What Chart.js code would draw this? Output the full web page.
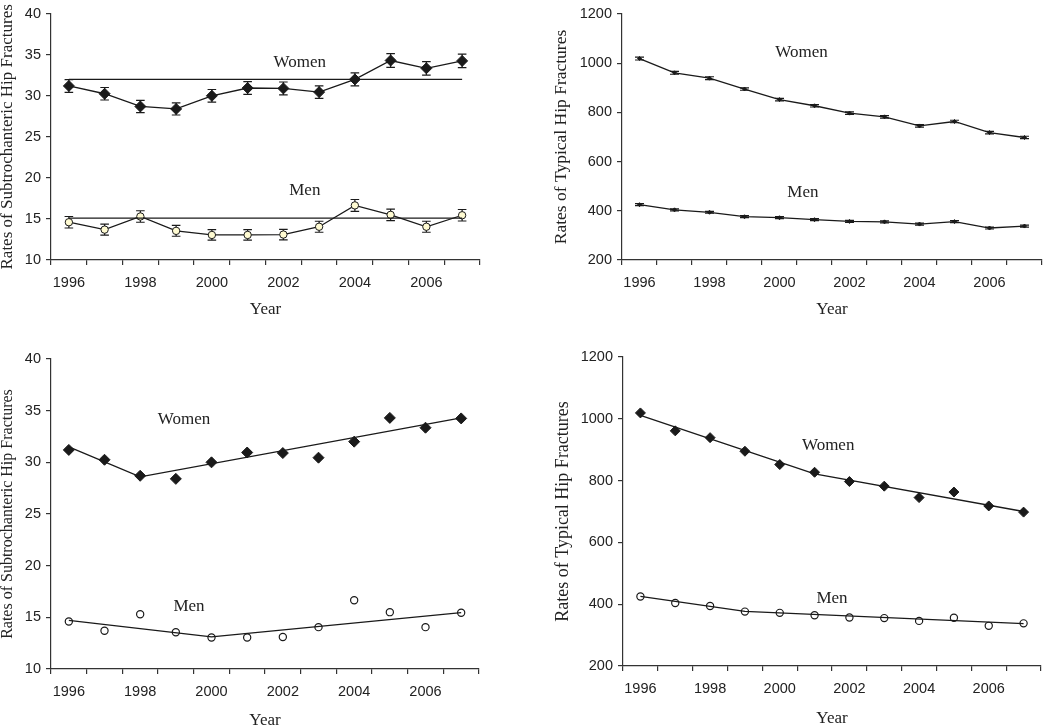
<!DOCTYPE html>
<html>
<head>
<meta charset="utf-8">
<script src="https://cdn.jsdelivr.net/npm/chart.js@4.4.1/dist/chart.umd.min.js"></script>
<style>
html, body { margin: 0; padding: 0; background: #fff; width: 1050px; height: 726px; overflow: hidden; position: relative; }
canvas { position: absolute; }
</style>
</head>
<body>
<canvas id="subTop" width="520" height="330" style="left:0px;top:0px"></canvas>
<canvas id="typTop" width="530" height="330" style="left:520px;top:0px"></canvas>
<canvas id="subBottom" width="520" height="410" style="left:0px;top:330px"></canvas>
<canvas id="typBottom" width="530" height="410" style="left:520px;top:330px"></canvas>
<script>
// values
const years = ['1996', '1997', '1998', '1999', '2000', '2001', '2002', '2003', '2004', '2005', '2006', '2007'];

// subtrochanteric rates
const subWomen = [31.2, 30.25, 28.7, 28.4, 30.0, 30.95, 30.9, 30.45, 32.0, 34.3, 33.35, 34.25];
const subWomenErr = [0.78, 0.76, 0.75, 0.74, 0.77, 0.78, 0.78, 0.77, 0.8, 0.83, 0.82, 0.83];
const subMen = [14.6, 13.7, 15.3, 13.55, 13.05, 13.05, 13.1, 14.05, 16.65, 15.5, 14.05, 15.45];
const subMenErr = [0.7, 0.66, 0.7, 0.66, 0.64, 0.64, 0.64, 0.67, 0.72, 0.7, 0.67, 0.7];
const subWomenMean = 32.0;
const subMenMean = 15.1;
const subWomenTrend = [31.5, null, 28.6, null, null, null, null, null, null, null, null, 34.3];
const subMenTrend = [14.7, null, null, null, 13.1, null, null, null, null, null, null, 15.45];

// typical rates
const typWomen = [1019, 961, 939, 895, 852, 827, 797, 782, 745, 763, 718, 698];
const typWomenErr = [6, 6, 6, 5, 5, 5, 5, 5, 5, 5, 5, 5];
const typMen = [425, 404, 394, 376, 372, 364, 357, 355, 346, 356, 330, 338];
const typMenErr = [4, 4, 4, 4, 4, 4, 4, 4, 4, 4, 4, 4];
const typWomenTrend = [1011, null, null, null, null, 822, null, null, null, null, null, 700];
const typMenTrend = [425, null, null, 377, null, null, null, null, null, null, null, 337];

Chart.defaults.font.family = "'Liberation Sans', Arial, sans-serif";
Chart.defaults.font.size = 14.5;
Chart.defaults.color = '#222';

const ink = '#1a1a1a';

// whiskers for datasets carrying an `errors` array
const errorBars = {
    id: 'errorBars',
    beforeDatasetDraw(chart, args) {
        const ds = chart.data.datasets[args.index];
        if (!ds.errors) return;
        const xs = chart.scales.x, ys = chart.scales.y, ctx = chart.ctx;
        ctx.save();
        ctx.strokeStyle = ink;
        ctx.lineWidth = 1.2;
        ds.data.forEach((v, i) => {
            if (v == null) return;
            const px = xs.getPixelForValue(i);
            const top = ys.getPixelForValue(v + ds.errors[i]);
            const bot = ys.getPixelForValue(v - ds.errors[i]);
            const w = ds.capWidth || 4;
            ctx.beginPath();
            ctx.moveTo(px, top); ctx.lineTo(px, bot);
            ctx.moveTo(px - w, top); ctx.lineTo(px + w, top);
            ctx.moveTo(px - w, bot); ctx.lineTo(px + w, bot);
            ctx.stroke();
        });
        ctx.restore();
    }
};

// "Women" / "Men" labels placed in data units
function notesPlugin(notes) {
    return {
        id: 'notes',
        afterDraw(chart) {
            const ctx = chart.ctx;
            ctx.save();
            ctx.font = "17px 'Liberation Serif', 'Times New Roman', serif";
            ctx.fillStyle = '#222';
            ctx.textAlign = 'center';
            ctx.textBaseline = 'middle';
            for (const n of notes) {
                ctx.fillText(n.text, chart.scales.x.getPixelForValue(n.x), chart.scales.y.getPixelForValue(n.y));
            }
            ctx.restore();
        }
    };
}

function endPoints(value) {
    return years.map((y, i) => (i === 0 || i === years.length - 1) ? value : null);
}

function makePanel(id, p) {
    new Chart(document.getElementById(id), {
        type: 'line',
        data: { labels: years, datasets: p.datasets },
        plugins: [errorBars, notesPlugin(p.notes)],
        options: {
            responsive: false,
            animation: false,
            devicePixelRatio: 1,
            layout: { padding: { top: p.padTop, right: p.padRight, left: 0, bottom: 0 } },
            plugins: { legend: { display: false }, tooltip: { enabled: false } },
            elements: { line: { tension: 0 } },
            scales: {
                x: {
                    type: 'category',
                    offset: true,
                    afterFit(scale) { scale.height = p.xHeight; },
                    grid: { offset: true, drawOnChartArea: false, drawTicks: true, tickLength: 5, color: '#333', lineWidth: 1.2 },
                    border: { display: true, color: '#333', width: 1.2 },
                    ticks: {
                        autoSkip: false, maxRotation: 0, padding: 9,
                        callback: (v, i) => (i % 2 === 0 ? years[i] : '')
                    },
                    title: {
                        display: true, text: 'Year', color: '#222',
                        font: { family: "'Liberation Serif', 'Times New Roman', serif", size: 17 },
                        padding: { top: 0, bottom: p.yearPad }
                    }
                },
                y: {
                    min: p.yMin, max: p.yMax,
                    afterFit(scale) { scale.width = p.yWidth; },
                    grid: { drawOnChartArea: false, drawTicks: true, tickLength: 5, color: '#333', lineWidth: 1.2 },
                    border: { display: true, color: '#333', width: 1.2 },
                    ticks: { stepSize: p.yStep, padding: 5, callback: v => String(v) },
                    title: {
                        display: true, text: p.yTitle, color: '#222',
                        font: { family: "'Liberation Serif', 'Times New Roman', serif", size: p.yTitleSize, lineHeight: 1 },
                        padding: { top: p.yTitlePad, bottom: 0 }
                    }
                }
            }
        }
    });
}

const lineStyle = { borderColor: ink, borderWidth: 1.3, pointBorderColor: ink, pointBorderWidth: 1 };

// top left: subtrochanteric with error bars and mean lines
makePanel('subTop', {
    yMin: 10, yMax: 40, yStep: 5, yWidth: 51, xHeight: 70, padTop: 13, padRight: 40,
    yTitle: 'Rates of Subtrochanteric Hip Fractures', yTitleSize: 17, yTitlePad: -1, yearPad: 10,
    notes: [{ text: 'Women', x: 6.46, y: 34.1 }, { text: 'Men', x: 6.6, y: 18.5 }],
    datasets: [
        { data: endPoints(subWomenMean), spanGaps: true, borderColor: ink, borderWidth: 1.3, pointRadius: 0 },
        { data: endPoints(subMenMean), spanGaps: true, borderColor: ink, borderWidth: 1.3, pointRadius: 0 },
        Object.assign({ data: subWomen, errors: subWomenErr, capWidth: 4.3, pointStyle: 'rectRot', pointRadius: 5.5, pointBackgroundColor: ink }, lineStyle),
        Object.assign({ data: subMen, errors: subMenErr, capWidth: 4.3, pointStyle: 'circle', pointRadius: 3.7, pointBackgroundColor: '#fffbd2' }, lineStyle)
    ]
});

// top right: typical with error bars
makePanel('typTop', {
    yMin: 200, yMax: 1200, yStep: 200, yWidth: 102, xHeight: 70, padTop: 14, padRight: 8,
    yTitle: 'Rates of Typical Hip Fractures', yTitleSize: 17.5, yTitlePad: 33, yearPad: 10,
    notes: [{ text: 'Women', x: 4.63, y: 1045 }, { text: 'Men', x: 4.67, y: 476 }],
    datasets: [
        Object.assign({ data: typWomen, errors: typWomenErr, capWidth: 4.5, pointStyle: 'rectRot', pointRadius: 2, pointBackgroundColor: ink }, lineStyle),
        Object.assign({ data: typMen, errors: typMenErr, capWidth: 4.5, pointStyle: 'rectRot', pointRadius: 2, pointBackgroundColor: ink }, lineStyle)
    ]
});

// bottom left: subtrochanteric with joinpoint trends
makePanel('subBottom', {
    yMin: 10, yMax: 40, yStep: 5, yWidth: 51, xHeight: 71, padTop: 29, padRight: 41,
    yTitle: 'Rates of Subtrochanteric Hip Fractures', yTitleSize: 16, yTitlePad: 0, yearPad: 9,
    notes: [{ text: 'Women', x: 3.23, y: 34.1 }, { text: 'Men', x: 3.37, y: 16.0 }],
    datasets: [
        { data: subWomenTrend, spanGaps: true, borderColor: ink, borderWidth: 1.3, pointRadius: 0 },
        { data: subMenTrend, spanGaps: true, borderColor: ink, borderWidth: 1.3, pointRadius: 0 },
        { data: subWomen, showLine: false, pointStyle: 'rectRot', pointRadius: 5.5, pointBackgroundColor: ink, pointBorderColor: ink, pointBorderWidth: 1 },
        { data: subMen, showLine: false, pointStyle: 'circle', pointRadius: 3.6, pointBackgroundColor: '#fff', pointBorderColor: ink, pointBorderWidth: 1.2 }
    ]
});

// bottom right: typical with joinpoint trends
makePanel('typBottom', {
    yMin: 200, yMax: 1200, yStep: 200, yWidth: 103, xHeight: 74, padTop: 27, padRight: 9,
    yTitle: 'Rates of Typical Hip Fractures', yTitleSize: 18, yTitlePad: 34, yearPad: 11,
    notes: [{ text: 'Women', x: 5.39, y: 914 }, { text: 'Men', x: 5.5, y: 418 }],
    datasets: [
        { data: typWomenTrend, spanGaps: true, borderColor: ink, borderWidth: 1.3, pointRadius: 0 },
        { data: typMenTrend, spanGaps: true, borderColor: ink, borderWidth: 1.3, pointRadius: 0 },
        { data: typWomen, showLine: false, pointStyle: 'rectRot', pointRadius: 5, pointBackgroundColor: ink, pointBorderColor: ink, pointBorderWidth: 1 },
        { data: typMen, showLine: false, pointStyle: 'circle', pointRadius: 3.6, pointBackgroundColor: '#fff', pointBorderColor: ink, pointBorderWidth: 1.2 }
    ]
});
</script>
</body>
</html>
